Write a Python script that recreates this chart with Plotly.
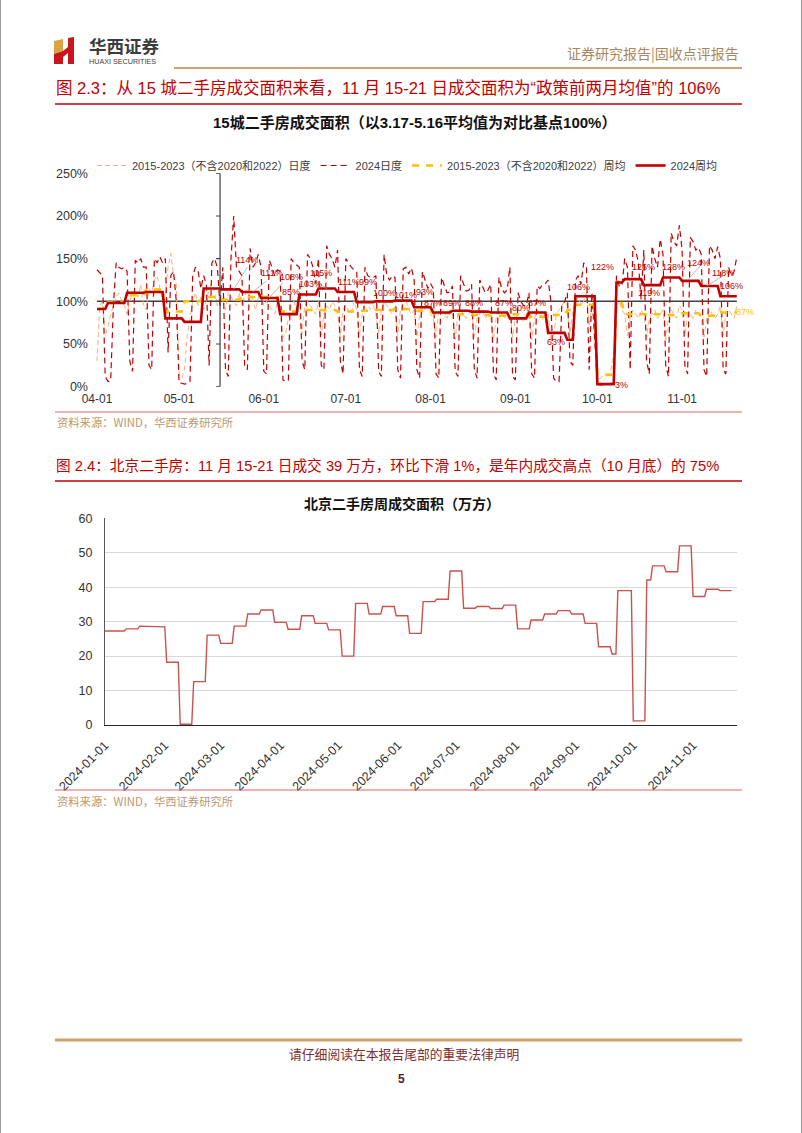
import pandas as pd
import plotly.graph_objects as go

W, H = 802, 1133
FONT = "Liberation Sans, Arial, Noto Sans CJK SC, sans-serif"
CJK = "Noto Sans CJK SC, sans-serif"

# ---------------- Chart 1 data: 15-city second-hand housing (base = 100%) -------------
city_start, city_end = "2024-04-01", "2024-11-21"

hist_daily = (
    # Apr
    [30, 95, 100, 60, 70, 85, 95, 105, 110, 100, 95, 85, 100, 110, 112, 105, 120, 95, 90, 115,
     110, 125, 130, 115, 100, 110, 140, 156, 130, 120]
    # May
    + [15, 10, 20, 60, 80, 100, 110, 95, 105, 90, 100, 115, 120, 110, 95, 105, 100, 90, 110, 105,
       100, 95, 110, 95, 105, 115, 110, 100, 90, 105, 115]
    # Jun
    + [95, 100, 95, 90, 85, 100, 90, 58, 62, 80, 95, 100, 90, 85, 62, 95, 100, 95, 90, 85,
       100, 60, 85, 95, 90, 100, 95, 85, 58, 90]
    # Jul
    + [95, 90, 85, 100, 90, 60, 85, 95, 100, 90, 95, 85, 62, 90, 100, 95, 90, 85, 95, 60,
       90, 95, 100, 90, 85, 90, 58, 85, 95, 90, 95]
    # Aug
    + [85, 80, 58, 90, 90, 85, 80, 90, 85, 55, 85, 90, 85, 80, 85, 90, 58, 80, 85, 90,
       80, 85, 80, 55, 80, 90, 85, 80, 85, 90, 58]
    # Sep
    + [80, 85, 80, 75, 85, 90, 55, 80, 90, 85, 80, 75, 85, 55, 60, 85, 90, 95, 100, 95,
       62, 90, 100, 105, 95, 100, 110, 70, 95, 85]
    # Oct
    + [8, 10, 12, 15, 14, 20, 40, 95, 100, 90, 85, 60, 80, 90, 85, 80, 90, 85, 58, 80,
       85, 90, 80, 85, 90, 55, 80, 90, 85, 80, 95]
    # Nov
    + [90, 60, 85, 85, 80, 90, 85, 80, 58, 80, 90, 85, 80, 85, 95, 60, 85, 90, 85, 80, 95]
)

daily_2024 = (
    # Apr
    [137, 133, 130, 12, 6, 7, 95, 145, 140, 138, 140, 135, 30, 18, 148, 145, 150, 140, 140, 25,
     20, 150, 145, 152, 145, 150, 40, 130, 135, 100]
    # May
    + [5, 4, 3, 4, 6, 130, 140, 135, 115, 130, 120, 25, 145, 150, 140, 95, 140, 20, 12, 150,
       200, 140, 135, 130, 25, 20, 162, 140, 145, 155, 140]
    # Jun
    + [18, 15, 148, 140, 130, 137, 135, 8, 6, 8, 150, 145, 143, 140, 30, 20, 155, 150, 140, 121,
       150, 25, 20, 165, 155, 150, 140, 160, 30, 15]
    # Jul
    + [150, 145, 140, 137, 135, 20, 12, 140, 130, 128, 128, 130, 18, 12, 155, 130, 125, 130, 128, 20,
       10, 138, 140, 132, 139, 125, 20, 10, 135, 125, 115]
    # Aug
    + [121, 115, 15, 10, 128, 120, 110, 111, 118, 18, 12, 130, 120, 112, 113, 120, 20, 10, 125, 118,
       110, 113, 120, 15, 8, 128, 115, 110, 113, 140, 12]
    # Sep
    + [8, 110, 100, 95, 95, 110, 15, 10, 118, 115, 120, 121, 125, 100, 10, 6, 6, 95, 99, 110,
       30, 25, 125, 130, 120, 145, 140, 20, 110, 58]
    # Oct
    + [3, 2, 2, 3, 3, 4, 4, 130, 118, 118, 150, 140, 20, 165, 160, 145, 102, 160, 30, 15,
       165, 150, 140, 173, 155, 25, 12, 180, 170, 165, 189]
    # Nov
    + [160, 25, 15, 175, 170, 160, 163, 155, 20, 12, 165, 160, 150, 164, 150, 20, 15, 140, 130, 135, 152]
)

week_starts = ["2024-03-29", "2024-04-05", "2024-04-12", "2024-04-19", "2024-04-26", "2024-05-03",
               "2024-05-10", "2024-05-17", "2024-05-24", "2024-05-31", "2024-06-07", "2024-06-14",
               "2024-06-21", "2024-06-28", "2024-07-05", "2024-07-12", "2024-07-19", "2024-07-26",
               "2024-08-02", "2024-08-09", "2024-08-16", "2024-08-23", "2024-08-30", "2024-09-06",
               "2024-09-13", "2024-09-20", "2024-09-23", "2024-10-01", "2024-10-08", "2024-10-11",
               "2024-10-18", "2024-10-25", "2024-11-01", "2024-11-08", "2024-11-15"]
week_2024 = [91, 98, 110, 111, 80, 76, 115, 114, 111, 104, 85, 108, 115, 111, 99, 100, 101, 93,
             87, 89, 88, 87, 80, 87, 63, 55, 106, 3, 122, 126, 119, 128, 124, 118, 106]
week_hist = [91, 99, 107, 114, 88, 100, 105, 102, 105, 105, 88, 90, 90, 88, 89, 90, 91, 89,
             86, 85, 84, 83, 85, 82, 84, 90, 96, 14, 98, 85, 85, 84, 86, 83, 87]

# data labels seen on the chart: (date, height, text)
label_dates = ["2024-05-26", "2024-06-04", "2024-06-11", "2024-06-11", "2024-06-18", "2024-06-22",
               "2024-07-02", "2024-07-09", "2024-07-15", "2024-07-23", "2024-07-30", "2024-08-02",
               "2024-08-09", "2024-08-17", "2024-08-28", "2024-09-03", "2024-09-09", "2024-09-16",
               "2024-09-24", "2024-10-03", "2024-10-10", "2024-10-18", "2024-10-20", "2024-10-29",
               "2024-11-07", "2024-11-16", "2024-11-19"]
label_y = [148, 133, 128, 111, 120, 133, 123, 123, 110, 108, 111, 98, 98, 98, 98, 92, 98, 52,
           117, 140, 2, 140, 110, 140, 145, 133, 118]
label_text = ["114%", "111%", "108%", "85%", "103%", "115%", "111%", "99%", "100%", "101%", "93%",
              "87%", "89%", "88%", "87%", "80%", "87%", "63%", "106%", "122%", "3%", "126%", "119%",
              "128%", "124%", "118%", "106%"]
hist_label = ("2024-11-20", 87, "87%")

city_ticks = ["2024-04-01", "2024-05-01", "2024-06-01", "2024-07-01", "2024-08-01", "2024-09-01",
              "2024-10-01", "2024-11-01"]
city_ticktext = ["04-01", "05-01", "06-01", "07-01", "08-01", "09-01", "10-01", "11-01"]
pct_ticks = [0, 50, 100, 150, 200, 250]

# ---------------- Chart 2 data: Beijing weekly second-hand volume (10k m2) -------------
bj_week_starts = ["2024-01-01", "2024-01-05", "2024-01-12", "2024-01-19", "2024-01-26", "2024-02-02",
                  "2024-02-09", "2024-02-16", "2024-02-23", "2024-03-01", "2024-03-08", "2024-03-15",
                  "2024-03-22", "2024-03-29", "2024-04-05", "2024-04-12", "2024-04-19", "2024-04-26",
                  "2024-05-03", "2024-05-10", "2024-05-17", "2024-05-24", "2024-05-31", "2024-06-07",
                  "2024-06-14", "2024-06-21", "2024-06-28", "2024-07-05", "2024-07-12", "2024-07-19",
                  "2024-07-26", "2024-08-02", "2024-08-09", "2024-08-16", "2024-08-23", "2024-08-30",
                  "2024-09-06", "2024-09-13", "2024-09-20", "2024-09-23", "2024-10-01", "2024-10-08",
                  "2024-10-11", "2024-10-18", "2024-10-25", "2024-11-01", "2024-11-08", "2024-11-15"]
bj_values = [27.3, 27.3, 27.9, 28.7, 28.5, 18.2, 0.2, 12.6, 26.1, 23.7, 28.7, 32.2, 33.4, 29.8,
             27.8, 31.7, 29.5, 27.6, 20.0, 35.3, 32.2, 34.4, 31.7, 26.6, 35.8, 36.5, 44.7, 33.9,
             34.4, 33.8, 34.8, 27.9, 30.5, 32.2, 33.2, 32.2, 29.5, 22.7, 20.6, 39.0, 1.2, 42.1,
             46.2, 44.5, 52.0, 37.3, 39.4, 39.0]
bj_ticks = ["2024-%02d-01" % m for m in range(1, 12)]
bj_yticks = [0, 10, 20, 30, 40, 50, 60]

# ---------------- expand weekly values to each day of their week ---------------------
city_days = pd.date_range(city_start, city_end, freq="D")
w24 = pd.Series(week_2024, index=pd.to_datetime(week_starts)).reindex(city_days, method="ffill")
wh = pd.Series(week_hist, index=pd.to_datetime(week_starts)).reindex(city_days, method="ffill")
bj_days = pd.date_range("2024-01-01", "2024-11-21", freq="D")
bj = pd.Series(bj_values, index=pd.to_datetime(bj_week_starts)).reindex(bj_days, method="ffill")

# ---------------- helpers for page layout in pixels -----------------------------------
def fx(p):
    return p / W


def fy(p):
    return 1 - p / H


def hline(x0, x1, y, color, width):
    return dict(type="line", xref="paper", yref="paper", x0=fx(x0), x1=fx(x1), y0=fy(y), y1=fy(y),
                line=dict(color=color, width=width))


def poly(points, color):
    path = "M " + " L ".join("%.5f,%.5f" % (fx(a), fy(b)) for a, b in points) + " Z"
    return dict(type="path", xref="paper", yref="paper", path=path, fillcolor=color,
                line=dict(width=0))


def text(x, y, s, size, color, anchor="left", bold=False, family=FONT):
    if bold:
        s = "<b>" + s + "</b>"
    return dict(xref="paper", yref="paper", x=fx(x), y=fy(y), text=s, showarrow=False,
                xanchor=anchor, yanchor="middle", font=dict(size=size, color=color, family=family))


fig = go.Figure()

RED = "#C00000"
fig.add_trace(go.Scatter(x=city_days, y=hist_daily, mode="lines", name="2015-2023（不含2020和2022）日度",
                         line=dict(color="#F2B37E", width=1, dash="5px,3px"), xaxis="x", yaxis="y"))
fig.add_trace(go.Scatter(x=city_days, y=daily_2024, mode="lines", name="2024日度",
                         line=dict(color=RED, width=1.2, dash="6px,4px"), xaxis="x", yaxis="y"))
fig.add_trace(go.Scatter(x=city_days, y=wh.values, mode="lines", name="2015-2023（不含2020和2022）周均",
                         line=dict(color="#FFC000", width=2.5, dash="7px,7px"), xaxis="x", yaxis="y"))
fig.add_trace(go.Scatter(x=city_days, y=w24.values, mode="lines", name="2024周均",
                         line=dict(color=RED, width=2.6), xaxis="x", yaxis="y"))
fig.add_trace(go.Scatter(x=bj_days, y=bj.values, mode="lines", showlegend=False,
                         line=dict(color="#C9524D", width=1.4), xaxis="x2", yaxis="y2"))

shapes = []
annotations = []

# page borders
shapes.append(dict(type="line", xref="paper", yref="paper", x0=fx(0.5), x1=fx(0.5), y0=0, y1=1,
                   line=dict(color="#9A9A9A", width=1)))
shapes.append(dict(type="line", xref="paper", yref="paper", x0=fx(801.5), x1=fx(801.5), y0=0, y1=1,
                   line=dict(color="#9A9A9A", width=1)))

# header logo
shapes.append(poly([(54, 41), (63, 39), (63, 51), (54, 54)], "#D9A441"))
shapes.append(poly([(54, 54), (63, 51), (63, 64), (54, 64)], "#C8161D"))
shapes.append(poly([(63, 51), (68, 47), (68, 53), (63, 57)], "#C8161D"))
shapes.append(poly([(68, 38), (74, 37), (74, 64), (68, 64)], "#C8161D"))
annotations.append(text(87, 46, "华西证券", 17.5, "#3C3C3C", bold=True, family=CJK))
annotations.append(text(87, 61, "HUAXI SECURITIES", 7.2, "#3C3C3C"))
annotations.append(text(741, 53, "证券研究报告|固收点评报告", 14, "#A8875E", anchor="right", family=CJK))
shapes.append(hline(174, 742, 68, "#C9A46C", 2.2))

# figure 2.3 header
annotations.append(text(54, 88, "图 2.3：从 15 城二手房成交面积来看，11 月 15-21 日成交面积为“政策前两月均值”的 106%",
                        16.5, RED))
shapes.append(hline(55, 742, 104, RED, 1.4))
annotations.append(text(414, 122, "15城二手房成交面积（以3.17-5.16平均值为对比基点100%）", 15, "#111111",
                        anchor="center", bold=True))
shapes.append(hline(55, 742, 412, "#E06666", 1.2))
annotations.append(text(55, 422, "资料来源：WIND，华西证券研究所", 11.3, "#B99870", family=CJK))

# figure 2.4 header
annotations.append(text(54, 465, "图 2.4：北京二手房：11 月 15-21 日成交 39 万方，环比下滑 1%，是年内成交高点（10 月底）的 75%",
                        14.7, RED))
shapes.append(hline(55, 742, 481, RED, 1.4))
annotations.append(text(402, 503, "北京二手房周成交面积（万方）", 14, "#111111", anchor="center",
                        bold=True, family=CJK))
shapes.append(hline(55, 742, 790, "#E06666", 1.2))
annotations.append(text(55, 801, "资料来源：WIND，华西证券研究所", 11.3, "#B99870", family=CJK))

# footer
shapes.append(hline(55, 742, 1040, "#C9A46C", 3))
annotations.append(text(404, 1053, "请仔细阅读在本报告尾部的重要法律声明", 12.8, "#7B2E2E", anchor="center", family=CJK))
annotations.append(text(401, 1079, "5", 12, "#5A1A1A", anchor="center", bold=True))

# chart-1 reference lines
shapes.append(dict(type="line", xref="x", yref="y", x0=city_start, x1=city_end, y0=100, y1=100,
                   line=dict(color="#404040", width=1.5), layer="below"))
shapes.append(dict(type="line", xref="x", yref="y", x0="2024-05-16", x1="2024-05-16", y0=0, y1=250,
                   line=dict(color="#404040", width=1.2)))
for v in pct_ticks:
    shapes.append(dict(type="line", xref="x", yref="y", xsizemode="pixel", xanchor="2024-05-16",
                       x0=-4, x1=0, y0=v, y1=v, line=dict(color="#404040", width=1.2)))

# leader lines
leaders = [("2024-05-21", 114, "2024-05-26", 140), ("2024-05-28", 111, "2024-06-02", 124),
           ("2024-06-03", 104, "2024-06-08", 122), ("2024-06-24", 115, "2024-06-19", 126),
           ("2024-11-03", 125, "2024-11-08", 143), ("2024-11-10", 118, "2024-11-16", 130)]
for a, b, c, d in leaders:
    shapes.append(dict(type="line", xref="x", yref="y", x0=a, y0=b, x1=c, y1=d,
                       line=dict(color="#A6A6A6", width=0.8)))

for d, yv, t in zip(label_dates, label_y, label_text):
    annotations.append(dict(xref="x", yref="y", x=d, y=yv, text=t, showarrow=False,
                            font=dict(size=9, color=RED, family=FONT)))
annotations.append(dict(xref="x", yref="y", x=hist_label[0], y=hist_label[1], text=hist_label[2],
                        showarrow=False, xanchor="left", font=dict(size=9, color="#FFC000", family=FONT)))

# axis geometry (pixels)
c1_left, c1_right, c1_top, c1_bot = 90, 745, 173.3, 386.7
c2_left, c2_right, c2_top, c2_bot = 105, 737, 518.3, 725

fig.update_layout(
    width=W, height=H, margin=dict(l=0, r=0, t=0, b=0, autoexpand=False),
    paper_bgcolor="white", plot_bgcolor="rgba(0,0,0,0)",
    font=dict(family=FONT, color="#404040"),
    showlegend=True,
    legend=dict(orientation="h", x=fx(92), y=fy(151), xanchor="left", yanchor="top",
                font=dict(size=11, color="#404040", family=FONT), itemwidth=30,
                bgcolor="rgba(0,0,0,0)", tracegroupgap=0),
    xaxis=dict(domain=[fx(c1_left), fx(c1_right)], anchor="y", type="date", automargin=False,
               range=["2024-03-29 10:30", "2024-11-24"], tickmode="array", tickvals=city_ticks,
               ticktext=city_ticktext, showgrid=False, zeroline=False, showline=False, ticks="",
               ticklabelstandoff=3, tickfont=dict(size=12, color="#333333")),
    yaxis=dict(domain=[fy(c1_bot), fy(c1_top)], anchor="x", range=[0, 250], tickmode="array",
               automargin=False, ticklabelstandoff=1,
               tickvals=pct_ticks, ticktext=["%d%%" % v for v in pct_ticks], showgrid=False,
               zeroline=False, showline=False, ticks="", tickfont=dict(size=12.5, color="#333333")),
    xaxis2=dict(domain=[fx(c2_left), fx(c2_right)], anchor="y2", type="date", automargin=False,
                range=["2024-01-01", "2024-11-23 19:00"], tickmode="array", tickvals=bj_ticks,
                tickformat="%Y-%m-%d", tickangle=-45, showgrid=False, zeroline=False, showline=True,
                linecolor="#262626", linewidth=1.2, ticks="", ticklabelstandoff=7,
                tickfont=dict(size=12.5, color="#333333")),
    yaxis2=dict(domain=[fy(c2_bot), fy(c2_top)], anchor="x2", range=[0, 60], tickmode="array",
                automargin=False,
                tickvals=bj_yticks, showgrid=True, gridcolor="#D9D9D9", gridwidth=1, zeroline=False,
                showline=True, linecolor="#595959", linewidth=1, ticks="",
                ticklabelstandoff=9, tickfont=dict(size=12.5, color="#333333")),
    shapes=shapes, annotations=annotations,
)

fig.write_html("out.html", config={"displayModeBar": False},
               post_script="document.body.style.margin='0';")
